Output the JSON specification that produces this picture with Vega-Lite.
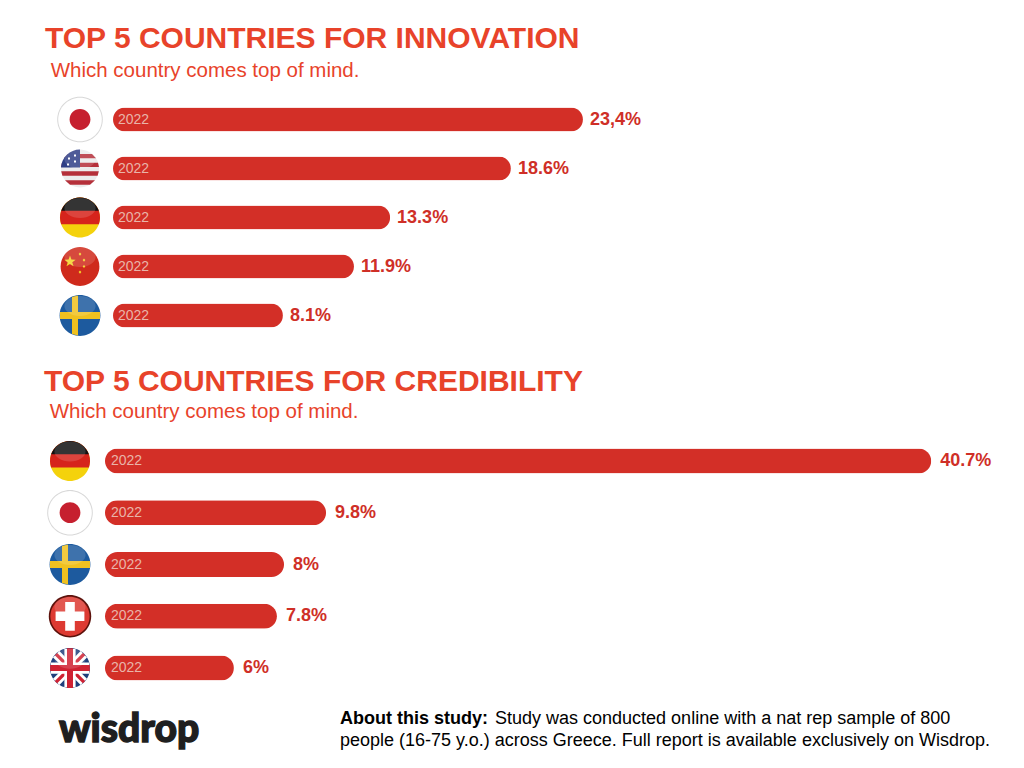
{
"$schema":"https://vega.github.io/schema/vega-lite/v6.json",
"background":"#ffffff",
"padding":{"left":0,"right":0,"top":23,"bottom":0},
"spacing":14,
"config":{"view":{"stroke":null},"font":"Liberation Sans"},
"datasets":{
"bars":[
{"panel":"innovation","country":"Japan","drawn":23.15,"label":"23,4%","year":"2022"},
{"panel":"innovation","country":"USA","drawn":19.6,"label":"18.6%","year":"2022"},
{"panel":"innovation","country":"Germany","drawn":13.65,"label":"13.3%","year":"2022"},
{"panel":"innovation","country":"China","drawn":11.87,"label":"11.9%","year":"2022"},
{"panel":"innovation","country":"Sweden","drawn":8.37,"label":"8.1%","year":"2022"},
{"panel":"credibility","country":"Germany","drawn":40.7,"label":"40.7%","year":"2022"},
{"panel":"credibility","country":"Japan","drawn":10.89,"label":"9.8%","year":"2022"},
{"panel":"credibility","country":"Sweden","drawn":8.82,"label":"8%","year":"2022"},
{"panel":"credibility","country":"Switzerland","drawn":8.47,"label":"7.8%","year":"2022"},
{"panel":"credibility","country":"UK","drawn":6.35,"label":"6%","year":"2022"}
],
"flags":[
{"panel":"innovation","country":"Japan","part":"jp_ring"},{"panel":"innovation","country":"Japan","part":"jp_white"},{"panel":"innovation","country":"Japan","part":"jp_disc"},
{"panel":"innovation","country":"USA","part":"us_base"},{"panel":"innovation","country":"USA","part":"us_stripes"},{"panel":"innovation","country":"USA","part":"us_canton"},{"panel":"innovation","country":"USA","part":"us_stars"},{"panel":"innovation","country":"USA","part":"gloss"},
{"panel":"innovation","country":"Germany","part":"de_gold"},{"panel":"innovation","country":"Germany","part":"de_red"},{"panel":"innovation","country":"Germany","part":"de_black"},{"panel":"innovation","country":"Germany","part":"gloss"},
{"panel":"innovation","country":"China","part":"cn_base"},{"panel":"innovation","country":"China","part":"cn_stars"},{"panel":"innovation","country":"China","part":"gloss"},
{"panel":"innovation","country":"Sweden","part":"se_base"},{"panel":"innovation","country":"Sweden","part":"se_cross"},{"panel":"innovation","country":"Sweden","part":"gloss"},
{"panel":"credibility","country":"Germany","part":"de_gold"},{"panel":"credibility","country":"Germany","part":"de_red"},{"panel":"credibility","country":"Germany","part":"de_black"},{"panel":"credibility","country":"Germany","part":"gloss"},
{"panel":"credibility","country":"Japan","part":"jp_ring"},{"panel":"credibility","country":"Japan","part":"jp_white"},{"panel":"credibility","country":"Japan","part":"jp_disc"},
{"panel":"credibility","country":"Sweden","part":"se_base"},{"panel":"credibility","country":"Sweden","part":"se_cross"},{"panel":"credibility","country":"Sweden","part":"gloss"},
{"panel":"credibility","country":"Switzerland","part":"ch_rim"},{"panel":"credibility","country":"Switzerland","part":"ch_base"},{"panel":"credibility","country":"Switzerland","part":"ch_plus"},{"panel":"credibility","country":"Switzerland","part":"gloss"},
{"panel":"credibility","country":"UK","part":"uk_base"},{"panel":"credibility","country":"UK","part":"uk_diag_white"},{"panel":"credibility","country":"UK","part":"uk_diag_red"},{"panel":"credibility","country":"UK","part":"uk_cross_white"},{"panel":"credibility","country":"UK","part":"uk_cross_red"},{"panel":"credibility","country":"UK","part":"gloss"}
]
},
"vconcat":[
{"spacing":26,"vconcat":[
{
"width":1024,"height":245,
"title":{"text":"TOP 5 COUNTRIES FOR INNOVATION","subtitle":"\u200b\u00a0Which country comes top of mind.","anchor":"start","frame":"group","dx":45,"offset":14,"fontSize":30,"fontWeight":"bold","color":"#e8432a","subtitleFontSize":20.5,"subtitleColor":"#e8432a","subtitlePadding":7,"font":"Liberation Sans","subtitleFont":"Liberation Sans"},
"data":{"name":"bars"},
"transform":[{"filter":"datum.panel === 'innovation'"}],
"layer":[
{"data":{"name":"flags"},"transform":[{"filter":"datum.panel === 'innovation'"}],
"mark":{"type":"point","filled":true,"opacity":1,"strokeWidth":0,"size":1600},
"encoding":{
"x":{"datum":-1.626,"type":"quantitative","scale":{"domain":[-5.567,44.877],"nice":false,"zero":false},"axis":null},
"y":{"field":"country","type":"nominal","scale":{"domain":["Japan","USA","Germany","China","Sweden"]},"axis":null},
"shape":{"field":"part","type":"nominal","legend":null,"scale":{"domain":["jp_ring","jp_white","jp_disc","us_base","us_stripes","us_canton","us_stars","de_gold","de_red","de_black","cn_base","cn_stars","se_base","se_cross","ch_rim","ch_base","ch_plus","uk_base","uk_diag_white","uk_diag_red","uk_cross_white","uk_cross_red","gloss"],
"range":["M-1.14,0A1.14,1.14,0,1,1,1.14,0A1.14,1.14,0,1,1,-1.14,0Z","M-1.09,0A1.09,1.09,0,1,1,1.09,0A1.09,1.09,0,1,1,-1.09,0Z","M-.52,0A.52,.52,0,1,1,.52,0A.52,.52,0,1,1,-.52,0Z","M-.95,0A.95,.95,0,1,1,.95,0A.95,.95,0,1,1,-.95,0Z","M-.6,-.73L.6,-.73L.8,-.51L-.8,-.51Z M-.9,-.29L.9,-.29L.95,-.08L-.95,-.08Z M-.94,.14L.94,.14L.88,.36L-.88,.36Z M-.75,.59L.75,.59L.5,.81L-.5,.81Z","M0,-.95A.95,.95,0,0,0,-.95,-.05L0,-.05Z","M-.6,-.55h.1v.1h-.1Z M-.3,-.7h.1v.1h-.1Z M-.3,-.4h.1v.1h-.1Z M-.65,-.25h.1v.1h-.1Z","M-1,0A1,1,0,1,1,1,0A1,1,0,1,1,-1,0Z","M-.943,.333A1,1,0,1,1,.943,.333Z","M-.943,-.333A1,1,0,0,1,.943,-.333Z","M-.97,0A.97,.97,0,1,1,.97,0A.97,.97,0,1,1,-.97,0Z","M-.5,-.55L-.429,-.347L-.215,-.343L-.386,-.213L-.324,-.007L-.5,-.13L-.676,-.007L-.614,-.213L-.785,-.343L-.571,-.347Z M0,-.7l.07,.08l-.07,.08l-.07,-.08Z M.2,-.4l.07,.08l-.07,.08l-.07,-.08Z M.2,-.08l.07,.08l-.07,.08l-.07,-.08Z M0,.2l.07,.08l-.07,.08l-.07,-.08Z","M-1.02,0A1.02,1.02,0,1,1,1.02,0A1.02,1.02,0,1,1,-1.02,0Z","M-.4,-.93L-.1,-1L-.1,-.17L1,-.17L1,.17L-.1,.17L-.1,1L-.4,.93L-.4,.17L-1,.17L-1,-.17L-.4,-.17Z","M-1.06,0A1.06,1.06,0,1,1,1.06,0A1.06,1.06,0,1,1,-1.06,0Z","M-.98,0A.98,.98,0,1,1,.98,0A.98,.98,0,1,1,-.98,0Z","M-.24,-.72L.24,-.72L.24,-.24L.72,-.24L.72,.24L.24,.24L.24,.72L-.24,.72L-.24,.24L-.72,.24L-.72,-.24L-.24,-.24Z","M-1,0A1,1,0,1,1,1,0A1,1,0,1,1,-1,0Z","M-.85,-.53L-.53,-.85L0,-.3L.53,-.85L.85,-.53L.3,0L.85,.53L.53,.85L0,.3L-.53,.85L-.85,.53L-.3,0Z","M-.76,-.64L-.64,-.76L.76,.64L.64,.76Z M.76,-.64L.64,-.76L-.76,.64L-.64,.76Z","M-.28,-.96L.28,-.96L.28,-.28L.96,-.28L.96,.28L.28,.28L.28,.96L-.28,.96L-.28,.28L-.96,.28L-.96,-.28L-.28,-.28Z","M-.15,-.99L.15,-.99L.15,-.15L.99,-.15L.99,.15L.15,.15L.15,.99L-.15,.99L-.15,.15L-.99,.15L-.99,-.15L-.15,-.15Z","M-.78,-.47A.78,.5,0,0,1,.78,-.47A.78,.5,0,0,1,-.78,-.47Z"]}},
"color":{"field":"part","type":"nominal","legend":null,"scale":{"domain":["jp_ring","jp_white","jp_disc","us_base","us_stripes","us_canton","us_stars","de_gold","de_red","de_black","cn_base","cn_stars","se_base","se_cross","ch_rim","ch_base","ch_plus","uk_base","uk_diag_white","uk_diag_red","uk_cross_white","uk_cross_red","gloss"],
"range":["#d8d8d8","#ffffff","#c6202f","#ececec","#b5303a","#2f3f86","#ffffff","#f4d20c","#d6241c","#111111","#cf2a1c","#f3d32a","#1d5a9e","#f0c11f","#5c120c","#dd3a32","#ffffff","#1f3f7c","#ffffff","#cf2233","#ffffff","#cf2233","rgba(255,255,255,0.15)"]}}
}},
{"mark":{"type":"bar","color":"#d32f27","cornerRadius":12,"size":24},
"encoding":{"x":{"field":"drawn","type":"quantitative"},"y":{"field":"country","type":"nominal"}}},
{"mark":{"type":"text","align":"left","dx":5,"fontSize":14,"color":"#e9b4a9"},
"encoding":{"x":{"datum":0,"type":"quantitative"},"y":{"field":"country","type":"nominal"},"text":{"field":"year"}}},
{"mark":{"type":"text","align":"left","dx":7,"fontSize":18,"fontWeight":"bold","color":"#cf2f27"},
"encoding":{"x":{"field":"drawn","type":"quantitative"},"y":{"field":"country","type":"nominal"},"text":{"field":"label"}}}
]
},
{
"width":1024,"height":259,
"title":{"text":"TOP 5 COUNTRIES FOR CREDIBILITY","subtitle":"\u200b\u00a0Which country comes top of mind.","anchor":"start","frame":"group","dx":44,"offset":13,"fontSize":30,"fontWeight":"bold","color":"#e8432a","subtitleFontSize":20.5,"subtitleColor":"#e8432a","subtitlePadding":5,"font":"Liberation Sans","subtitleFont":"Liberation Sans"},
"data":{"name":"bars"},
"transform":[{"filter":"datum.panel === 'credibility'"}],
"layer":[
{"data":{"name":"flags"},"transform":[{"filter":"datum.panel === 'credibility'"}],
"mark":{"type":"point","filled":true,"opacity":1,"strokeWidth":0,"size":1600},
"encoding":{
"x":{"datum":-1.724,"type":"quantitative","scale":{"domain":[-5.172,45.27],"nice":false,"zero":false},"axis":null},
"y":{"field":"country","type":"nominal","scale":{"domain":["Germany","Japan","Sweden","Switzerland","UK"]},"axis":null},
"shape":{"field":"part","type":"nominal","legend":null,"scale":{"domain":["jp_ring","jp_white","jp_disc","us_base","us_stripes","us_canton","us_stars","de_gold","de_red","de_black","cn_base","cn_stars","se_base","se_cross","ch_rim","ch_base","ch_plus","uk_base","uk_diag_white","uk_diag_red","uk_cross_white","uk_cross_red","gloss"],
"range":["M-1.14,0A1.14,1.14,0,1,1,1.14,0A1.14,1.14,0,1,1,-1.14,0Z","M-1.09,0A1.09,1.09,0,1,1,1.09,0A1.09,1.09,0,1,1,-1.09,0Z","M-.52,0A.52,.52,0,1,1,.52,0A.52,.52,0,1,1,-.52,0Z","M-.95,0A.95,.95,0,1,1,.95,0A.95,.95,0,1,1,-.95,0Z","M-.6,-.73L.6,-.73L.8,-.51L-.8,-.51Z M-.9,-.29L.9,-.29L.95,-.08L-.95,-.08Z M-.94,.14L.94,.14L.88,.36L-.88,.36Z M-.75,.59L.75,.59L.5,.81L-.5,.81Z","M0,-.95A.95,.95,0,0,0,-.95,-.05L0,-.05Z","M-.6,-.55h.1v.1h-.1Z M-.3,-.7h.1v.1h-.1Z M-.3,-.4h.1v.1h-.1Z M-.65,-.25h.1v.1h-.1Z","M-1,0A1,1,0,1,1,1,0A1,1,0,1,1,-1,0Z","M-.943,.333A1,1,0,1,1,.943,.333Z","M-.943,-.333A1,1,0,0,1,.943,-.333Z","M-.97,0A.97,.97,0,1,1,.97,0A.97,.97,0,1,1,-.97,0Z","M-.5,-.55L-.429,-.347L-.215,-.343L-.386,-.213L-.324,-.007L-.5,-.13L-.676,-.007L-.614,-.213L-.785,-.343L-.571,-.347Z M0,-.7l.07,.08l-.07,.08l-.07,-.08Z M.2,-.4l.07,.08l-.07,.08l-.07,-.08Z M.2,-.08l.07,.08l-.07,.08l-.07,-.08Z M0,.2l.07,.08l-.07,.08l-.07,-.08Z","M-1.02,0A1.02,1.02,0,1,1,1.02,0A1.02,1.02,0,1,1,-1.02,0Z","M-.4,-.93L-.1,-1L-.1,-.17L1,-.17L1,.17L-.1,.17L-.1,1L-.4,.93L-.4,.17L-1,.17L-1,-.17L-.4,-.17Z","M-1.06,0A1.06,1.06,0,1,1,1.06,0A1.06,1.06,0,1,1,-1.06,0Z","M-.98,0A.98,.98,0,1,1,.98,0A.98,.98,0,1,1,-.98,0Z","M-.24,-.72L.24,-.72L.24,-.24L.72,-.24L.72,.24L.24,.24L.24,.72L-.24,.72L-.24,.24L-.72,.24L-.72,-.24L-.24,-.24Z","M-1,0A1,1,0,1,1,1,0A1,1,0,1,1,-1,0Z","M-.85,-.53L-.53,-.85L0,-.3L.53,-.85L.85,-.53L.3,0L.85,.53L.53,.85L0,.3L-.53,.85L-.85,.53L-.3,0Z","M-.76,-.64L-.64,-.76L.76,.64L.64,.76Z M.76,-.64L.64,-.76L-.76,.64L-.64,.76Z","M-.28,-.96L.28,-.96L.28,-.28L.96,-.28L.96,.28L.28,.28L.28,.96L-.28,.96L-.28,.28L-.96,.28L-.96,-.28L-.28,-.28Z","M-.15,-.99L.15,-.99L.15,-.15L.99,-.15L.99,.15L.15,.15L.15,.99L-.15,.99L-.15,.15L-.99,.15L-.99,-.15L-.15,-.15Z","M-.78,-.47A.78,.5,0,0,1,.78,-.47A.78,.5,0,0,1,-.78,-.47Z"]}},
"color":{"field":"part","type":"nominal","legend":null,"scale":{"domain":["jp_ring","jp_white","jp_disc","us_base","us_stripes","us_canton","us_stars","de_gold","de_red","de_black","cn_base","cn_stars","se_base","se_cross","ch_rim","ch_base","ch_plus","uk_base","uk_diag_white","uk_diag_red","uk_cross_white","uk_cross_red","gloss"],
"range":["#d8d8d8","#ffffff","#c6202f","#ececec","#b5303a","#2f3f86","#ffffff","#f4d20c","#d6241c","#111111","#cf2a1c","#f3d32a","#1d5a9e","#f0c11f","#5c120c","#dd3a32","#ffffff","#1f3f7c","#ffffff","#cf2233","#ffffff","#cf2233","rgba(255,255,255,0.15)"]}}
}},
{"mark":{"type":"bar","color":"#d32f27","cornerRadius":12.5,"size":25},
"encoding":{"x":{"field":"drawn","type":"quantitative"},"y":{"field":"country","type":"nominal"}}},
{"mark":{"type":"text","align":"left","dx":6,"fontSize":14,"color":"#e9b4a9"},
"encoding":{"x":{"datum":0,"type":"quantitative"},"y":{"field":"country","type":"nominal"},"text":{"field":"year"}}},
{"mark":{"type":"text","align":"left","dx":9,"fontSize":18,"fontWeight":"bold","color":"#cf2f27"},
"encoding":{"x":{"field":"drawn","type":"quantitative"},"y":{"field":"country","type":"nominal"},"text":{"field":"label"}}}
]
}
]},
{
"width":1024,"height":44,
"data":{"values":[
{"line":"first","style":"bold","text":"About this study:"},
{"line":"first","style":"regular","text":"Study was conducted online with a nat rep sample of 800"},
{"line":"second","style":"regular","text":"people (16-75 y.o.) across Greece. Full report is available exclusively on Wisdrop."},
{"line":"logo","style":"logo","text":"wisdrop"}
]},
"layer":[
{"transform":[{"filter":"datum.style === 'logo'"}],
"mark":{"type":"text","align":"left","font":"Lato","fontWeight":900,"fontSize":39,"color":"#1f1f1f","stroke":"#1f1f1f","strokeWidth":1.4},
"encoding":{"x":{"datum":59,"type":"quantitative","scale":{"domain":[0,1024],"nice":false,"zero":false},"axis":null},"text":{"field":"text"}}},
{"transform":[{"filter":"datum.style === 'bold'"}],
"mark":{"type":"text","align":"left","fontWeight":"bold","fontSize":18,"color":"#000000"},
"encoding":{"x":{"datum":340,"type":"quantitative"},"y":{"field":"line","type":"nominal","scale":{"domain":["first","second"]},"axis":null},"text":{"field":"text"}}},
{"transform":[{"filter":"datum.style === 'regular' && datum.line === 'first'"}],
"mark":{"type":"text","align":"left","fontSize":18,"color":"#000000"},
"encoding":{"x":{"datum":495,"type":"quantitative"},"y":{"field":"line","type":"nominal"},"text":{"field":"text"}}},
{"transform":[{"filter":"datum.line === 'second'"}],
"mark":{"type":"text","align":"left","fontSize":18,"color":"#000000"},
"encoding":{"x":{"datum":340,"type":"quantitative"},"y":{"field":"line","type":"nominal"},"text":{"field":"text"}}}
]
}
]
}
